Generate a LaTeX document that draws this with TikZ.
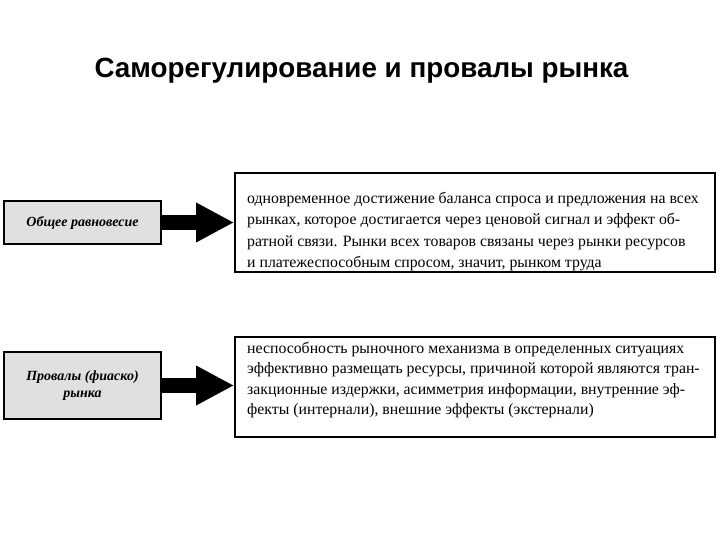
\documentclass[tikz,border=0pt]{standalone}
\usepackage{fontspec}
\setmainfont{Liberation Serif}
\newfontfamily\titlefont{Liberation Sans}
\usetikzlibrary{arrows.meta}
\tikzset{
  leftbox/.style={draw=black, line width=2.4pt, fill=black!12, minimum width=157pt, inner sep=0pt,
    align=center, font=\fontsize{14}{17}\selectfont\bfseries\itshape},
  rightbox/.style={draw=black, line width=1.8pt, minimum width=480pt, inner sep=0pt},
  bodytext/.style={anchor=north west, inner sep=0pt, align=left, font=\fontsize{15.8}{21.3}\selectfont},
  bigarrow/.style={line width=15pt, -{Triangle[length=38pt,width=37pt]}, draw=black}
}
\begin{document}
\begin{tikzpicture}[x=1pt,y=-1pt]
\useasboundingbox (0,0) rectangle (720,540);
\node[font=\titlefont\fontsize{27.8}{32}\selectfont\bfseries, anchor=base] (title) at (361.5,78) {Саморегулирование и провалы рынка};

\node[leftbox, minimum height=43pt] (l1) at (82.5,222.5) {Общее равновесие};
\node[rightbox, minimum height=99pt] (r1) at (475,222.5) {};
\node[bodytext] (t1) at (247,192) {одновременное достижение баланса спроса и предложения на всех\\
рынках, которое достигается через ценовой сигнал и эффект об-\\
ратной связи. Рынки всех товаров связаны через рынки ресурсов\\
и платежеспособным спросом, значит, рынком труда};

\node[leftbox, minimum height=67pt] (l2) at (82.5,385.5) {Провалы (фиаско)\\рынка};
\node[rightbox, minimum height=100pt] (r2) at (475,387) {};
\node[bodytext, font=\fontsize{15.8}{20.3}\selectfont] (t2) at (247,342) {неспособность рыночного механизма в определенных ситуациях\\
эффективно размещать ресурсы, причиной которой являются тран-\\
закционные издержки, асимметрия информации, внутренние эф-\\
фекты (интернали), внешние эффекты (экстернали)};

\draw[bigarrow] (l1.east) -- (r1.west |- l1.east);
\draw[bigarrow] (l2.east) -- (r2.west |- l2.east);
\end{tikzpicture}
\end{document}
